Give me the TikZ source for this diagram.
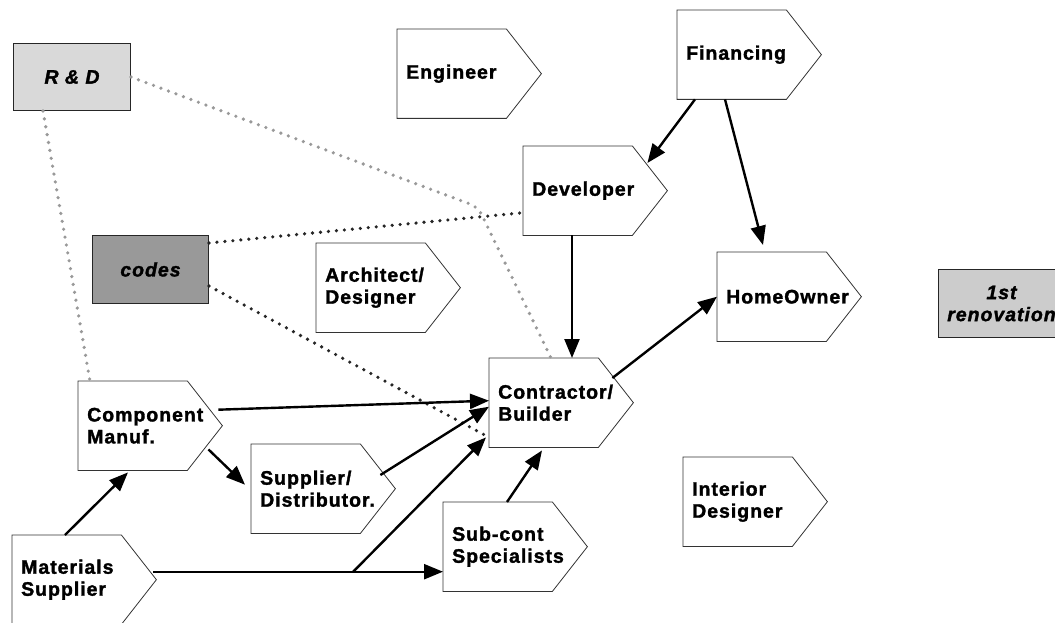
\documentclass[tikz,border=0pt]{standalone}
\usepackage{fontspec}
\setmainfont{Liberation Sans}[LetterSpace=5, BoldFeatures={FakeBold=1.6}, BoldItalicFeatures={FakeBold=1.6}]
\usetikzlibrary{arrows.meta}

\begin{document}
\begin{tikzpicture}[x=1pt,y=-1pt,
	stage/.style={anchor=north west, minimum width=109pt, minimum height=89pt, text width=91pt,
		inner xsep=9pt, inner ysep=0pt, align=left, font=\fontsize{19.5}{22}\selectfont\bfseries},
	outline/.style={draw=black!80, line width=0.8pt},
	note/.style={anchor=north west, draw=black!85, line width=1pt, inner sep=0pt, align=center,
		font=\fontsize{19.5}{22}\selectfont\bfseries\itshape},
	flow/.style={line width=2.4pt, -{Triangle[length=19pt,width=15pt]}},
	hint/.style={line width=3.6pt, line cap=round, dash pattern=on 0pt off 8pt}]
						% Fix the frame of the picture
						\useasboundingbox (0,0) rectangle (1055,623);
						
						% Place the stages of the chain
						\node[stage] (eng) at (397,29) {Engineer};
						\node[stage] (fin) at (677,10) {Financing};
						\node[stage] (dev) at (523,146) {Developer};
						\node[stage] (arch) at (316,243) {Architect/\\Designer};
						\node[stage] (home) at (717,252) {HomeOwner};
						\node[stage] (con) at (489,358) {Contractor/\\Builder};
						\node[stage] (comp) at (78,381) {Component\\Manuf.};
						\node[stage] (sup) at (251,444) {Supplier/\\Distributor.};
						\node[stage] (sub) at (443,502) {Sub-cont\\Specialists};
						\node[stage] (int) at (683,457) {Interior\\Designer};
						\node[stage] (mat) at (12,535) {Materials\\Supplier};
						
						% Draw the pointed outline of each stage
						\foreach \n in {eng,fin,dev,arch,home,con,comp,sup,sub,int,mat}
						\draw[outline] (\n.north west) -- (\n.north east) -- ([xshift=35pt]\n.east) -- (\n.south east) -- (\n.south west) -- cycle;
						
						% Grey side boxes
						\node[note, fill=black!15, minimum width=117pt, minimum height=67pt] (rd) at (13,43) {R \& D};
						\node[note, fill=black!40, minimum width=116pt, minimum height=68pt] (codes) at (92,235) {codes};
						\node[note, fill=black!20, minimum width=126pt, minimum height=68pt] (reno) at (938,269) {1st\\renovation};
						
						% Dotted links from R&D and codes
						\coordinate (bend) at (478,207);
						\draw[hint, black!40] ([xshift=30pt]rd.south west) -- ([xshift=12pt]comp.north west);
						\draw[hint, black!40, rounded corners=8pt] (rd.east) -- (bend) -- ([xshift=62pt]con.north west);
						\draw[hint, black!85] ([yshift=-8pt]codes.north east) -- ([yshift=-22pt]dev.west);
						\draw[hint, black!85] ([yshift=18pt]codes.south east) -- ([yshift=10pt]con.south west);
						
						% Arrows between the stages
						\draw[flow] ([xshift=18pt]fin.south west) -- ([xshift=15pt,yshift=-17pt]dev.north east);
						\draw[flow] ([xshift=48pt]fin.south west) -- ([xshift=46pt,yshift=7pt]home.north west);
						\draw[flow] ([xshift=49pt]dev.south west) -- ([xshift=83pt]con.north west);
						\draw[flow] ([xshift=14pt,yshift=-20pt]con.north east) -- (home.west);
						\draw[flow] ([xshift=31pt,yshift=16pt]comp.east) -- ([yshift=2pt]con.west);
						\draw[flow] ([xshift=21pt,yshift=21pt]comp.south east) -- ([xshift=-6pt,yshift=4pt]sup.west);
						\draw[flow] ([xshift=20pt,yshift=-31pt]sup.north east) -- ([yshift=-4pt]con.west);
						\draw[flow] ([xshift=53pt]mat.north west) -- ([xshift=50pt,yshift=-2pt]comp.south west);
						\draw[flow] ([xshift=32pt,yshift=8pt]mat.east) -- coordinate[pos=0.69] (split) ([yshift=-25pt]sub.west);
						\draw[flow] (split) -- ([xshift=-3pt,yshift=10pt]con.south west);
						\draw[flow] ([xshift=64pt]sub.north west) -- ([xshift=53pt,yshift=-3pt]con.south west);
\end{tikzpicture}
\end{document}
